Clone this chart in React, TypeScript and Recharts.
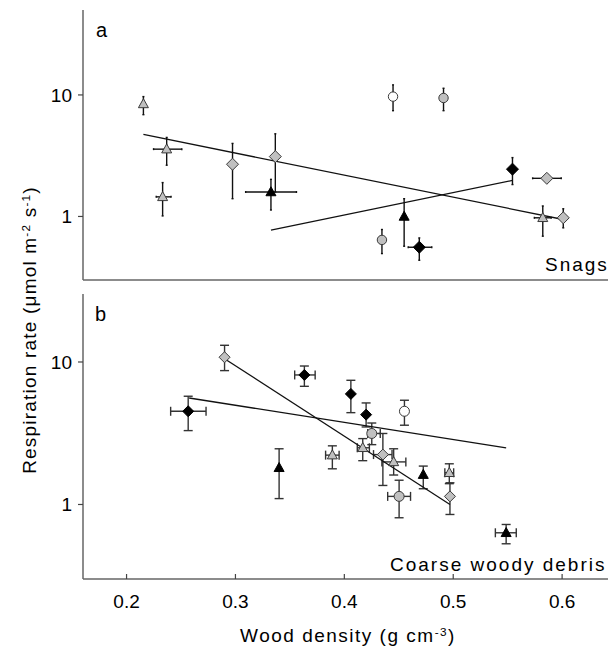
import React from 'react';
import { ScatterChart, Scatter, XAxis, YAxis, ErrorBar } from 'recharts';

// Each entry: [x, y, yLow, yHigh, xLow, xHigh]  (null = no error bar)
// Panel a – Snags
const snagGrayTriangles = [
  [0.2066, 8.43, 6.88, 9.69, null, null],
  [0.2284, 3.58, 2.64, 4.47, 0.2161, 0.2426],
  [0.2246, 1.45, 1.01, 1.9, 0.2186, 0.2325],
  [0.5808, 0.975, 0.688, 1.22, 0.5729, 0.5887],
];
const snagBlackTriangles = [
  [0.3261, 1.59, 1.13, 2.02, 0.3024, 0.35],
  [0.4509, 1.0, 0.569, 1.4, null, null],
];
const snagGrayDiamonds = [
  [0.2901, 2.69, 1.4, 3.99, null, null],
  [0.3302, 3.11, 1.59, 4.79, null, null],
  [0.5846, 2.06, null, null, 0.5713, 0.5981],
  [0.6, 0.975, 0.806, 1.157, null, null],
];
const snagBlackDiamonds = [
  [0.4651, 0.558, 0.436, 0.666, 0.4547, 0.4768],
  [0.5524, 2.45, 1.83, 3.05, null, null],
];
const snagWhiteCircles = [[0.4405, 9.69, 7.42, 12.1, null, null]];
const snagGrayCircles = [
  [0.4878, 9.44, 7.42, 11.35, null, null],
  [0.4301, 0.641, 0.495, 0.781, null, null],
];
const snagFitA = [[0.2066, 4.73], [0.6, 0.944]];
const snagFitB = [[0.3261, 0.771], [0.5524, 1.98]];

// Panel b – Coarse woody debris
const cwdGrayDiamonds = [
  [0.29, 10.8, 8.7, 13.1, null, null],
  [0.4354, 2.24, 1.36, 3.15, 0.4268, 0.4438],
  [0.497, 1.14, 0.851, 1.42, null, null],
];
const cwdBlackDiamonds = [
  [0.3633, 8.11, 6.75, 9.37, 0.3544, 0.3732],
  [0.2566, 4.51, 3.3, 5.75, 0.2405, 0.273],
  [0.406, 5.97, 4.41, 7.44, null, null],
  [0.42, 4.27, 3.5, 5.16, null, null],
];
const cwdWhiteCircles = [[0.4552, 4.51, 3.6, 5.39, null, null]];
const cwdGrayCircles = [
  [0.4252, 3.15, 2.63, 3.73, 0.4215, 0.433],
  [0.4503, 1.14, 0.807, 1.48, 0.4398, 0.4608],
];
const cwdGrayTriangles = [
  [0.389, 2.22, 1.78, 2.58, 0.3828, 0.3952],
  [0.4169, 2.5, 2.03, 2.9, 0.4119, 0.423],
  [0.4453, 1.99, 1.61, 2.46, 0.4345, 0.4565],
  [0.4964, 1.67, 1.4, 1.93, 0.4923, 0.5004],
];
const cwdBlackTriangles = [
  [0.3401, 1.81, 1.1, 2.46, null, null],
  [0.4725, 1.62, 1.29, 1.86, null, null],
  [0.5486, 0.633, 0.53, 0.724, 0.5387, 0.5579],
];
const cwdFitA = [[0.2575, 5.59], [0.5486, 2.5]];
const cwdFitB = [[0.29, 10.55], [0.497, 1.0]];

const xTicks = [0.2, 0.3, 0.4, 0.5, 0.6];
const yTicks = [1, 10];

const GRAY = '#c0c0c0';
const EDGE = '#3a3a3a';
const FONT = '"Liberation Sans", Arial, Helvetica, sans-serif';

type Row = (number | null)[];
const toRows = (arr: Row[]) =>
  arr.map(([x, y, ylo, yhi, xlo, xhi]) => ({
    x,
    y,
    ey: ylo != null && yhi != null ? [(y as number) - ylo, yhi - (y as number)] : undefined,
    ex: xlo != null && xhi != null ? [(x as number) - xlo, xhi - (x as number)] : undefined,
  }));
const toLine = (arr: number[][]) => arr.map(([x, y]) => ({ x, y }));

const triangle = (fill: string, s: number) => (p: any) => {
  const { cx, cy } = p;
  if (cx == null || cy == null) return <g />;
  return (
    <polygon
      points={`${cx},${cy - s * 1.05} ${cx - s},${cy + s * 0.75} ${cx + s},${cy + s * 0.75}`}
      fill={fill}
      stroke={fill === GRAY ? EDGE : '#000'}
      strokeWidth={1}
    />
  );
};
const diamond = (fill: string, s: number) => (p: any) => {
  const { cx, cy } = p;
  if (cx == null || cy == null) return <g />;
  return (
    <polygon
      points={`${cx},${cy - s} ${cx + s},${cy} ${cx},${cy + s} ${cx - s},${cy}`}
      fill={fill}
      stroke={fill === GRAY ? EDGE : '#000'}
      strokeWidth={1}
    />
  );
};
const circle = (fill: string, r: number) => (p: any) => {
  const { cx, cy } = p;
  if (cx == null || cy == null) return <g />;
  return <circle cx={cx} cy={cy} r={r} fill={fill} stroke={EDGE} strokeWidth={1} />;
};
const noShape = () => <g />;

const series = (
  key: string,
  rows: Row[],
  shape: any,
  cap: number,
  barColor: string
) => (
  <Scatter key={key} data={toRows(rows)} shape={shape} isAnimationActive={false}>
    <ErrorBar dataKey="ey" direction="y" width={cap} stroke={barColor} strokeWidth={1.4} />
    <ErrorBar dataKey="ex" direction="x" width={cap} stroke={barColor} strokeWidth={1.4} />
  </Scatter>
);

const fitLine = (key: string, pts: number[][]) => (
  <Scatter
    key={key}
    data={toLine(pts)}
    line={{ stroke: '#111', strokeWidth: 1.3 }}
    shape={noShape}
    isAnimationActive={false}
  />
);

const axisLine = { stroke: '#666', strokeWidth: 1.5 };
const tickLine = { stroke: '#444', strokeWidth: 1.2 };

export default function App() {
  const labelStyle: React.CSSProperties = {
    position: 'absolute',
    fontFamily: FONT,
    color: '#000',
    whiteSpace: 'nowrap',
    lineHeight: 1,
  };
  const sup: React.CSSProperties = { fontSize: '0.62em', position: 'relative', top: '-0.55em' };
  return (
    <div
      style={{
        position: 'absolute',
        left: 0,
        top: 0,
        width: 608,
        height: 649,
        overflow: 'hidden',
        background: '#fff',
        fontFamily: FONT,
      }}
    >
      {/* Panel a */}
      <div style={{ position: 'absolute', left: 0, top: 0 }}>
        <ScatterChart width={680} height={285} margin={{ top: 10, right: 10, bottom: 0, left: 0 }}>
          <XAxis
            type="number"
            dataKey="x"
            domain={[0.15, 0.7]}
            ticks={xTicks}
            tick={false}
            tickSize={-5}
            height={5}
            axisLine={axisLine}
            tickLine={tickLine}
            allowDataOverflow
          />
          <YAxis
            type="number"
            dataKey="y"
            scale="log"
            domain={[0.3, 50]}
            ticks={yTicks}
            width={83}
            tickSize={5}
            tickMargin={6}
            tick={{ fontSize: 19, fill: '#000' }}
            axisLine={axisLine}
            tickLine={tickLine}
            allowDataOverflow
          />
          {fitLine('fa1', snagFitA)}
          {fitLine('fa2', snagFitB)}
          {series('a1', snagGrayTriangles, triangle(GRAY, 5), 1, '#111')}
          {series('a2', snagBlackTriangles, triangle('#000', 5), 1, '#111')}
          {series('a3', snagGrayDiamonds, diamond(GRAY, 6), 1, '#111')}
          {series('a4', snagBlackDiamonds, diamond('#000', 6), 1, '#111')}
          {series('a5', snagWhiteCircles, circle('#fff', 4.7), 1, '#111')}
          {series('a6', snagGrayCircles, circle(GRAY, 4.7), 1, '#111')}
        </ScatterChart>
      </div>

      {/* Panel b */}
      <div style={{ position: 'absolute', left: 0, top: 284 }}>
        <ScatterChart width={681} height={335} margin={{ top: 10, right: 10, bottom: 0, left: 0 }}>
          <XAxis
            type="number"
            dataKey="x"
            domain={[0.16, 0.7]}
            ticks={xTicks}
            tickSize={-5}
            tickMargin={21}
            height={40}
            tick={{ fontSize: 19, fill: '#000' }}
            axisLine={axisLine}
            tickLine={tickLine}
            allowDataOverflow
          />
          <YAxis
            type="number"
            dataKey="y"
            scale="log"
            domain={[0.3, 30]}
            ticks={yTicks}
            width={83}
            tickSize={5}
            tickMargin={6}
            tick={{ fontSize: 19, fill: '#000' }}
            axisLine={axisLine}
            tickLine={tickLine}
            allowDataOverflow
          />
          {fitLine('fb1', cwdFitA)}
          {fitLine('fb2', cwdFitB)}
          {series('b1', cwdGrayDiamonds, diamond(GRAY, 5.5), 4.5, '#333')}
          {series('b2', cwdBlackDiamonds, diamond('#000', 5.5), 4.5, '#333')}
          {series('b3', cwdWhiteCircles, circle('#fff', 5), 4.5, '#333')}
          {series('b4', cwdGrayCircles, circle(GRAY, 5), 4.5, '#333')}
          {series('b5', cwdGrayTriangles, triangle(GRAY, 5), 4.5, '#333')}
          {series('b6', cwdBlackTriangles, triangle('#000', 5), 4.5, '#333')}
        </ScatterChart>
      </div>

      {/* Text */}
      <div style={{ ...labelStyle, left: 96, top: 20, fontSize: 20 }}>a</div>
      <div style={{ ...labelStyle, left: 95, top: 304, fontSize: 20 }}>b</div>
      <div style={{ ...labelStyle, left: 545, top: 255, fontSize: 19, letterSpacing: 2 }}>Snags</div>
      <div style={{ ...labelStyle, left: 390, top: 555, fontSize: 19, letterSpacing: 2 }}>Coarse woody debris</div>
      <div
        style={{
          ...labelStyle,
          left: 348,
          top: 635,
          transform: 'translate(-50%, -50%)',
          fontSize: 19,
          letterSpacing: 1.5,
        }}
      >
        Wood density (g cm<span style={sup}>-3</span>)
      </div>
      <div
        style={{
          ...labelStyle,
          left: 29,
          top: 330,
          transform: 'translate(-50%, -50%) rotate(-90deg)',
          fontSize: 19,
          letterSpacing: 1.2,
        }}
      >
        Respiration rate (μmol m<span style={sup}>-2</span> s<span style={sup}>-1</span>)
      </div>
    </div>
  );
}
